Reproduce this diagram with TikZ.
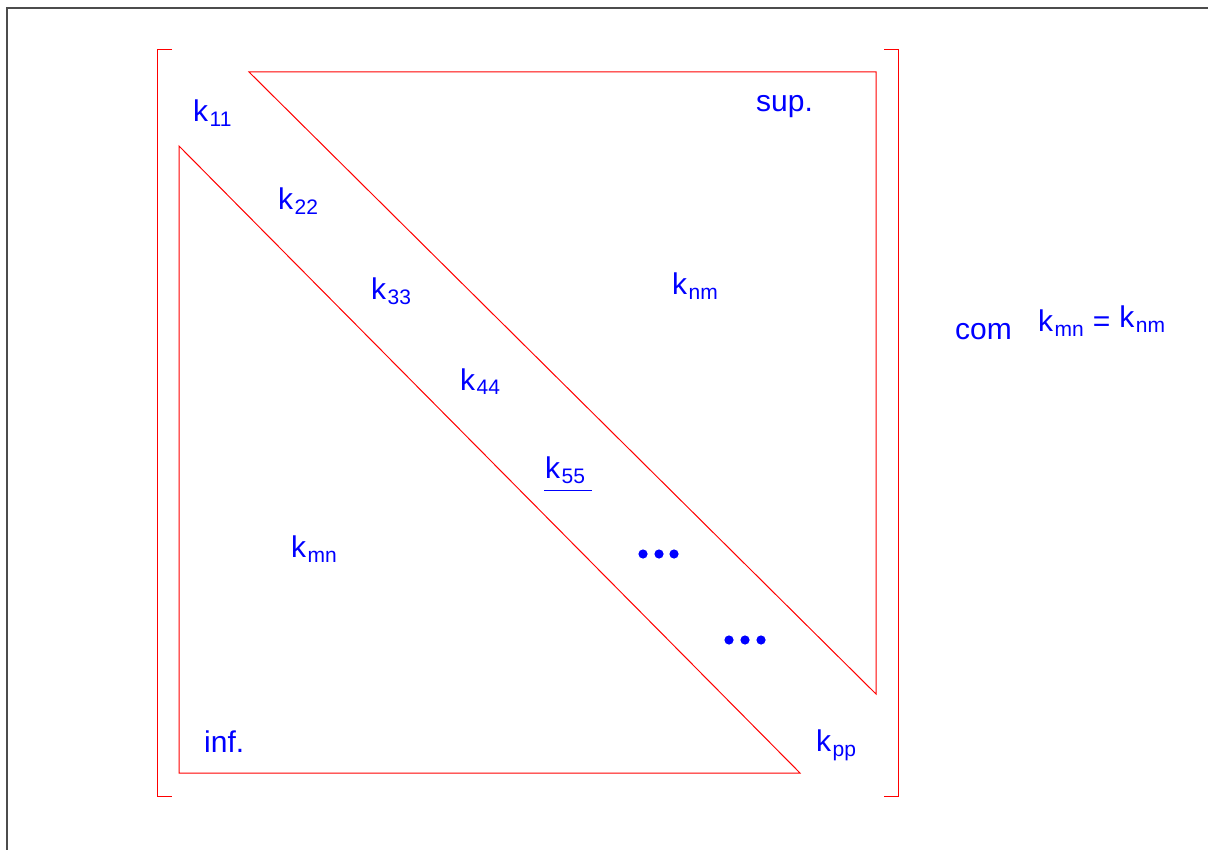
\documentclass[tikz,border=0pt]{standalone}
\usepackage{fontspec}
\setmainfont{Liberation Sans}
\usetikzlibrary{positioning}
\newcommand{\ksub}[1]{\hspace{1.5pt}\raisebox{-5pt}{\fontsize{21}{25}\selectfont #1}}

\begin{document}
\begin{tikzpicture}[
  x=1pt, y=-1pt,
  every node/.style={font=\fontsize{30}{36}\selectfont, text=blue, inner sep=0pt, anchor=base west},
  frame/.style={draw=black!70, line width=1.6pt},
  bracket/.style={draw=red, line width=1pt},
  tri/.style={draw=red, line width=1pt},
  dot/.style={fill=blue}
]
  \useasboundingbox (0,0) rectangle (1208,850);

  % Moldura
  \draw[frame] (7,850) -- (7,8) -- (1208,8);

  % Colchetes da matriz
  \draw[bracket] (172,50) -- (157,50) -- (157,796) -- (172,796);
  \draw[bracket] (884,50) -- (898,50) -- (898,796) -- (884,796);

  % Triangulos superior e inferior
  \draw[tri] (249,72) -- (876,72) -- (876,694) -- cycle;
  \draw[tri] (179,146) -- (179,773) -- (800,773) -- cycle;

  % Diagonal principal
  \node (k11) at (193,122) {k\ksub{11}};
  \node (k22) at (278,210) {k\ksub{22}};
  \node (k33) at (371,300) {k\ksub{33}};
  \node (k44) at (460,390) {k\ksub{44}};
  \node (k55) at (545,478) {k\ksub{55}};
  \node (kpp) at (816,751) {k\ksub{pp}};
  \draw[blue, line width=0.9pt] ([xshift=-1pt,yshift=-7pt]k55.south west) -- ([xshift=7pt,yshift=-7pt]k55.south east);

  % Reticencias
  \foreach \x in {643,659,674} \fill[dot] (\x,554) circle (4.6);
  \foreach \x in {729,745,761} \fill[dot] (\x,640) circle (4.6);

  % Termos fora da diagonal
  \node (knm) at (672,295) {k\ksub{nm}};
  \node (kmn) at (291,557) {k\ksub{mn}};
  \node (sup) at (756,112) {sup.};
  \node (inf) at (204,752) {inf.};

  % Simetria
  \node (com) at (955,340) {com};
  \node (sym) at (1038,332) {k\ksub{mn}\hspace{9pt}=\hspace{9pt}\raisebox{4pt}{k\ksub{nm}}};

\end{tikzpicture}
\end{document}
